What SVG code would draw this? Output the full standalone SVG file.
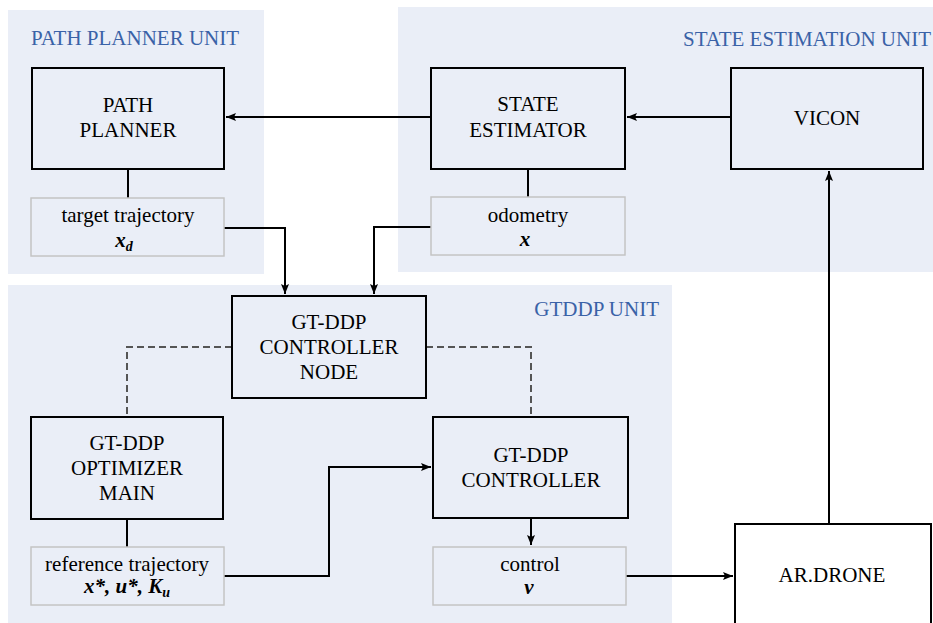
<svg xmlns="http://www.w3.org/2000/svg" width="933" height="623" viewBox="0 0 933 623">
<style>
.panel{fill:#eaeef7;stroke:none}
.title{font-size:21px;fill:#3a62a7}
.box{fill:#eaeef7;stroke:#000;stroke-width:2}
.val{fill:#eaeef7;stroke:#c4c4c4;stroke-width:1.5}
.t{font-size:21px;fill:#000;text-anchor:middle}
.m{font-weight:bold;font-style:italic}
.ln{fill:none;stroke:#000;stroke-width:2}
.dash{fill:none;stroke:#555;stroke-width:2;stroke-dasharray:7 4}
</style>
<defs>
<marker id="ah" markerUnits="userSpaceOnUse" markerWidth="12" markerHeight="10" refX="10" refY="4" orient="auto">
<path d="M0,0 L10,4 L0,8 L2,4 Z" fill="#000"/>
</marker>
</defs>
<rect width="933" height="623" fill="#fff"/>
<g font-family="'Liberation Serif', 'Times New Roman', serif">
<g id="panels">
<rect class="panel" x="8" y="10" width="256" height="264"/>
<rect class="panel" x="398" y="7" width="535" height="265"/>
<rect class="panel" x="8" y="285" width="664" height="338"/>
<text class="title" x="31" y="45">PATH PLANNER UNIT</text>
<text class="title" x="931" y="46" text-anchor="end">STATE ESTIMATION UNIT</text>
<text class="title" x="659" y="316" text-anchor="end">GTDDP UNIT</text>
</g>
<g id="connectors">
<line class="ln" x1="128" y1="169" x2="128" y2="198"/>
<line class="ln" x1="528" y1="169" x2="528" y2="197"/>
<line class="ln" x1="127" y1="519" x2="127" y2="547"/>
<line class="ln" x1="431" y1="117" x2="226" y2="117" marker-end="url(#ah)"/>
<line class="ln" x1="731" y1="117" x2="627" y2="117" marker-end="url(#ah)"/>
<polyline class="ln" points="224,228 285,228 285,294" marker-end="url(#ah)"/>
<polyline class="ln" points="431,227 374,227 374,294" marker-end="url(#ah)"/>
<polyline class="dash" points="232,347 127,347 127,417"/>
<polyline class="dash" points="426,347 531,347 531,417"/>
<polyline class="ln" points="224,576 329,576 329,467 431,467" marker-end="url(#ah)"/>
<line class="ln" x1="531" y1="518" x2="531" y2="545" marker-end="url(#ah)"/>
<line class="ln" x1="626" y1="576" x2="733" y2="576" marker-end="url(#ah)"/>
<line class="ln" x1="829" y1="524" x2="829" y2="171" marker-end="url(#ah)"/>
</g>
<g id="path-planner">
<rect class="box" x="32" y="68" width="192" height="101"/>
<text class="t" x="128" y="112">PATH</text>
<text class="t" x="128" y="137">PLANNER</text>
</g>
<g id="target-trajectory">
<rect class="val" x="31" y="198" width="193" height="58"/>
<text class="t" x="128" y="222">target trajectory</text>
<text class="t m" x="124" y="247">x<tspan font-size="14" dy="4">d</tspan></text>
</g>
<g id="state-estimator">
<rect class="box" x="431" y="68" width="194" height="101"/>
<text class="t" x="528" y="111">STATE</text>
<text class="t" x="528" y="137">ESTIMATOR</text>
</g>
<g id="odometry">
<rect class="val" x="431" y="197" width="194" height="58"/>
<text class="t" x="528" y="222">odometry</text>
<text class="t m" x="525" y="246">x</text>
</g>
<g id="vicon">
<rect class="box" x="731" y="68" width="192" height="101"/>
<text class="t" x="827" y="125">VICON</text>
</g>
<g id="controller-node">
<rect class="box" x="232" y="296" width="194" height="102"/>
<text class="t" x="329" y="329">GT-DDP</text>
<text class="t" x="329" y="354">CONTROLLER</text>
<text class="t" x="329" y="379">NODE</text>
</g>
<g id="optimizer-main">
<rect class="box" x="31" y="417" width="192" height="102"/>
<text class="t" x="127" y="450">GT-DDP</text>
<text class="t" x="127" y="475">OPTIMIZER</text>
<text class="t" x="127" y="500">MAIN</text>
</g>
<g id="reference-trajectory">
<rect class="val" x="31" y="547" width="193" height="58"/>
<text class="t" x="127" y="571">reference trajectory</text>
<text class="t m" x="127" y="593">x*, u*, K<tspan font-size="14" dy="4">u</tspan></text>
</g>
<g id="controller">
<rect class="box" x="433" y="417" width="195" height="101"/>
<text class="t" x="531" y="462">GT-DDP</text>
<text class="t" x="531" y="487">CONTROLLER</text>
</g>
<g id="control">
<rect class="val" x="433" y="547" width="193" height="58"/>
<text class="t" x="530" y="571">control</text>
<text class="t m" x="529" y="594">v</text>
</g>
<g id="ar-drone">
<rect x="735" y="524" width="196" height="110" fill="#fff" stroke="#000" stroke-width="2"/>
<text class="t" x="832" y="582">AR.DRONE</text>
</g>
</g>
</svg>
